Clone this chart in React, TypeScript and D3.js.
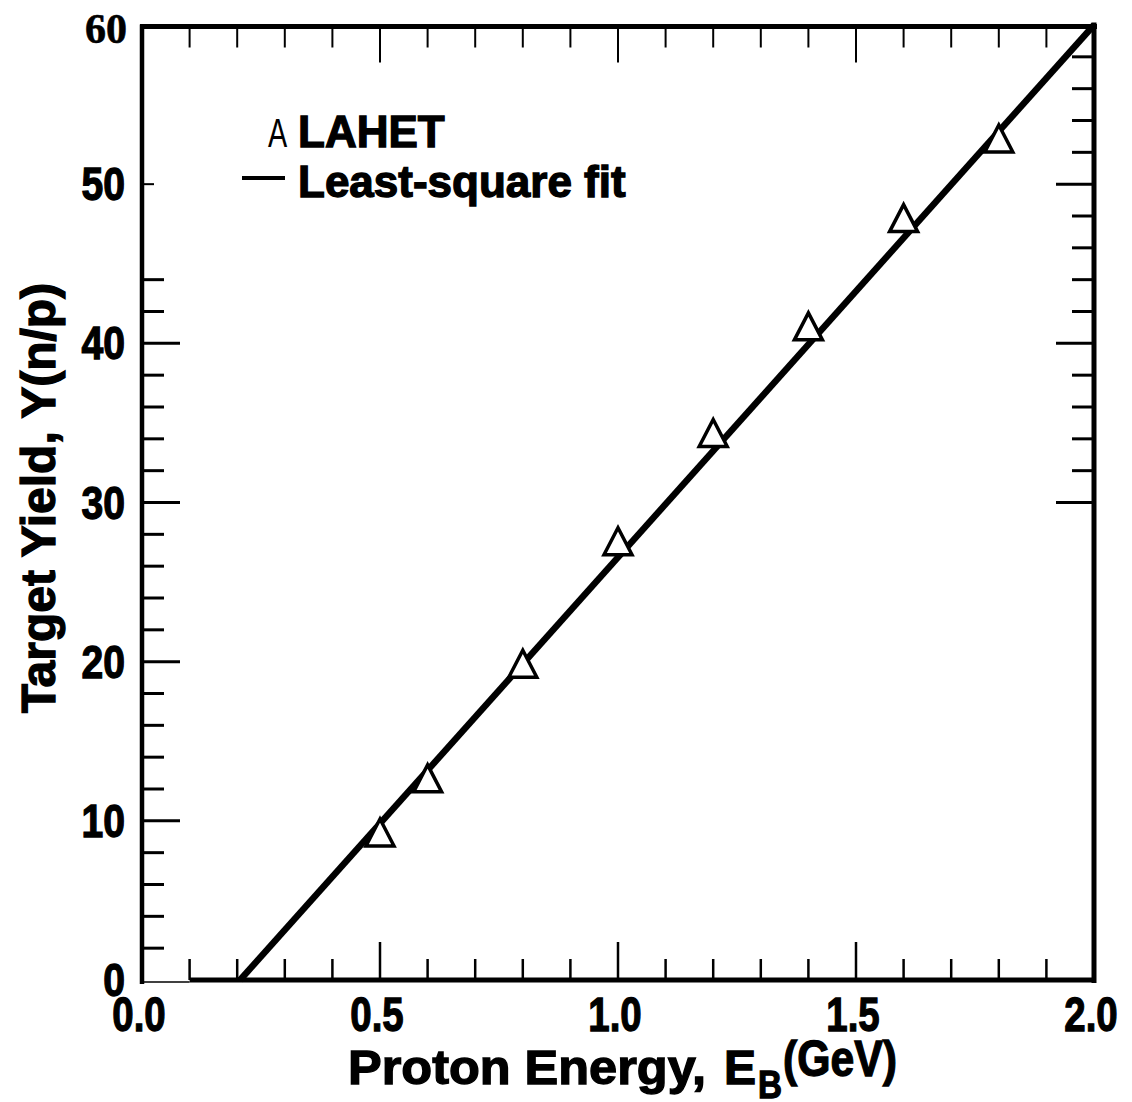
import React from "react";
import * as d3 from "d3";

// ---- data ----
const energyGeV = [0.5, 0.6, 0.8, 1.0, 1.2, 1.4, 1.6, 1.8];
const yieldLahet = [9.3, 12.7, 19.9, 27.6, 34.4, 41.1, 47.9, 52.9];
const fitEnergy = [0.206, 2.0];
const fitYield = [0, 60];
const xTickLabels = ["0.0", "0.5", "1.0", "1.5", "2.0"];
const xTickValues = [0, 0.5, 1.0, 1.5, 2.0];
const yTickValues = [0, 10, 20, 30, 40, 50];
const yTopLabel = "60";

const W = 1132;
const H = 1102;
const SANS = "'Liberation Sans', Arial, Helvetica, sans-serif";
const SERIF = "'Liberation Serif', 'Times New Roman', serif";

export default function App() {
  const x = d3.scaleLinear().domain([0, 2]).range([142, 1094]);
  const y = d3.scaleLinear().domain([0, 60]).range([980, 25]);

  const line = d3
    .line<number>()
    .x((_, i) => x(fitEnergy[i]))
    .y((d) => y(d));

  const xMinor = d3.range(1, 20).map((i) => i / 10);
  const leftTicks = d3.range(2, 46, 2);
  const rightTicks = d3.range(30, 60, 2);
  const isMajorX = (v: number) => Math.abs(v * 2 - Math.round(v * 2)) < 1e-6;
  const isMajorY = (v: number) => v % 10 === 0;

  const topY = y(60) + 1.5;
  const botY = y(0);
  const leftX = x(0);
  const rightX = x(2);

  const tri = "M0,-13L14,14L-14,14Z";
  const heavy = { stroke: "#000", strokeWidth: 1.3 };

  return (
    <svg
      width={W}
      height={H}
      style={{ position: "absolute", left: 0, top: 0, background: "#fff" }}
    >
      <rect x={0} y={0} width={W} height={H} fill="#fff" />

      {/* frame */}
      <line x1={leftX} x2={leftX} y1={topY - 2} y2={botY + 4} stroke="#000" strokeWidth={4.5} />
      <line x1={leftX - 2} x2={rightX + 3} y1={topY} y2={topY} stroke="#000" strokeWidth={5} />
      <line x1={rightX} x2={rightX} y1={topY - 4} y2={botY + 3} stroke="#000" strokeWidth={5} />
      <line x1={leftX} x2={x(0.1)} y1={botY + 2} y2={botY + 2} stroke="#000" strokeWidth={1.5} />
      <line x1={x(0.1)} x2={rightX + 2} y1={botY} y2={botY} stroke="#000" strokeWidth={5} />

      {/* x ticks bottom & top */}
      {xMinor.map((v) => (
        <g key={"xt" + v}>
          <line
            x1={x(v)}
            x2={x(v)}
            y1={botY}
            y2={botY - (isMajorX(v) ? 38 : 21)}
            stroke="#000"
            strokeWidth={2.5}
          />
          <line
            x1={x(v)}
            x2={x(v)}
            y1={topY}
            y2={topY + (isMajorX(v) ? 36 : 21)}
            stroke="#000"
            strokeWidth={2}
          />
        </g>
      ))}

      {/* left ticks */}
      {leftTicks.map((v) => (
        <line
          key={"yl" + v}
          x1={leftX}
          x2={leftX + (isMajorY(v) ? 38 : 22)}
          y1={y(v)}
          y2={y(v)}
          stroke="#000"
          strokeWidth={3}
        />
      ))}
      <line x1={leftX} x2={leftX + 12} y1={y(50)} y2={y(50)} stroke="#000" strokeWidth={2} />

      {/* right ticks */}
      {rightTicks.map((v) => (
        <line
          key={"yr" + v}
          x1={rightX}
          x2={rightX - (isMajorY(v) ? 38 : 22)}
          y1={y(v)}
          y2={y(v)}
          stroke="#000"
          strokeWidth={3}
        />
      ))}

      {/* fit line */}
      <path d={line(fitYield) || ""} fill="none" stroke="#000" strokeWidth={6.5} />

      {/* LAHET points */}
      {energyGeV.map((e, i) => (
        <path
          key={"p" + i}
          d={tri}
          transform={`translate(${x(e)},${y(yieldLahet[i])})`}
          fill="#fff"
          stroke="#000"
          strokeWidth={3.5}
          strokeLinejoin="miter"
        />
      ))}

      {/* y tick labels */}
      {yTickValues.map((v) => (
        <text
          key={"yl" + v}
          transform={`translate(125,${y(v) + 16}) scale(0.85,1)`}
          textAnchor="end"
          fontFamily={SANS}
          fontWeight="bold"
          fontSize={46}
          fill="#000"
          {...heavy}
        >
          {String(v)}
        </text>
      ))}
      <text
        transform={`translate(127,${y(60) + 18})`}
        textAnchor="end"
        fontFamily={SERIF}
        fontWeight="bold"
        fontSize={42}
        fill="#000"
        stroke="#000"
        strokeWidth={0.6}
      >
        {yTopLabel}
      </text>

      {/* x tick labels */}
      {xTickValues.map((v, i) => (
        <text
          key={"xl" + v}
          transform={`translate(${x(v) - 3},1031) scale(0.8,1)`}
          textAnchor="middle"
          fontFamily={SANS}
          fontWeight="bold"
          fontSize={48}
          fill="#000"
          {...heavy}
        >
          {xTickLabels[i]}
        </text>
      ))}

      {/* x axis title */}
      <text
        x={348}
        y={1084}
        textLength={358}
        lengthAdjust="spacingAndGlyphs"
        fontFamily={SANS}
        fontWeight="bold"
        fontSize={48}
        fill="#000"
        {...heavy}
      >
        Proton Energy,
      </text>
      <text x={724} y={1084} fontFamily={SANS} fontWeight="bold" fontSize={48} fill="#000" {...heavy}>
        E
      </text>
      <text
        x={758}
        y={1098}
        textLength={24}
        lengthAdjust="spacingAndGlyphs"
        fontFamily={SANS}
        fontWeight="bold"
        fontSize={38}
        fill="#000"
        {...heavy}
      >
        B
      </text>
      <text
        x={783}
        y={1076}
        textLength={114}
        lengthAdjust="spacingAndGlyphs"
        fontFamily={SANS}
        fontWeight="bold"
        fontSize={50}
        fill="#000"
        {...heavy}
      >
        (GeV)
      </text>

      {/* y axis title */}
      <text
        transform="translate(55,498) rotate(-90)"
        textAnchor="middle"
        fontFamily={SANS}
        fontWeight="bold"
        fontSize={48}
        fill="#000"
        {...heavy}
      >
        Target Yield, Y(n/p)
      </text>

      {/* legend */}
      <text
        transform="translate(268,147) scale(0.72,1)"
        fontFamily={SANS}
        fontSize={40}
        fill="#000"
      >
        A
      </text>
      <text x={298} y={147} fontFamily={SANS} fontWeight="bold" fontSize={44} fill="#000" {...heavy}>
        LAHET
      </text>
      <line x1={242} x2={285} y1={178} y2={178} stroke="#000" strokeWidth={4} />
      <text x={298} y={197} fontFamily={SANS} fontWeight="bold" fontSize={44} fill="#000" {...heavy}>
        Least-square fit
      </text>
    </svg>
  );
}
